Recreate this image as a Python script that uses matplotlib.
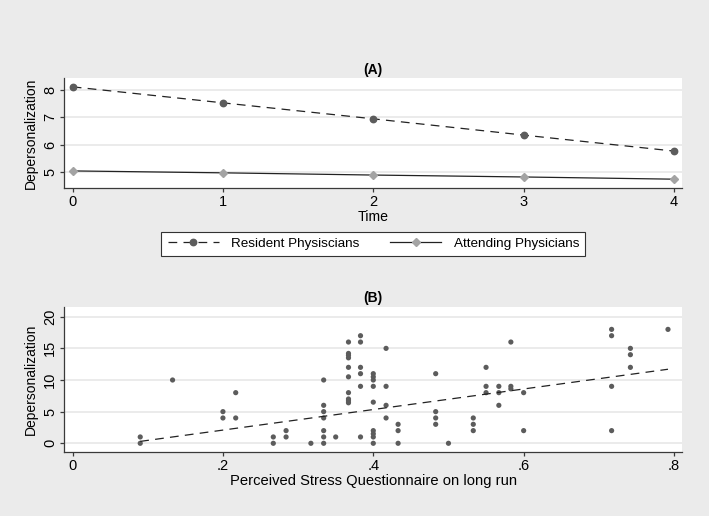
import numpy as np
import matplotlib
matplotlib.use("Agg")
import matplotlib.pyplot as plt

plt.rcParams['font.family'] = ['Liberation Sans', 'DejaVu Sans']

# Panel A: mean depersonalization over time
time = [0, 1, 2, 3, 4]
resident = [8.1, 7.52, 6.94, 6.35, 5.77]
attending = [5.05, 4.98, 4.90, 4.83, 4.75]

# Panel B: scatter of stress vs depersonalization (grouped by stress value)
stress_levels = [0.09, 0.133, 0.2, 0.217, 0.267, 0.284, 0.317, 0.334, 0.35,
                 0.367, 0.383, 0.4, 0.417, 0.433, 0.483, 0.5, 0.533, 0.55,
                 0.567, 0.583, 0.6, 0.717, 0.742, 0.792]
depers_groups = [
    [0, 1],
    [10],
    [5, 4],
    [8, 4],
    [1, 0],
    [2, 1],
    [0],
    [10, 6, 5, 4, 2, 1, 0],
    [1],
    [16, 14.2, 13.9, 13.5, 12, 10.5, 8, 7, 6.7, 6.4],
    [17, 16, 12, 11, 9, 1],
    [11, 10.5, 10, 9, 6.5, 2, 1.5, 1, 0],
    [15, 9, 6, 4],
    [3, 2, 0],
    [11, 5, 4, 3],
    [0],
    [4, 3, 2],
    [12, 9, 8],
    [9, 8, 6],
    [16, 9, 8.6],
    [8, 2],
    [18, 17, 9, 2],
    [15, 14, 12],
    [18],
]
# fitted line
fit_x = [0.09, 0.792]
fit_y = [0.3, 11.7]

stress = np.concatenate([[s] * len(g) for s, g in zip(stress_levels, depers_groups)])
depers = np.concatenate(depers_groups)

bg = '#ebebeb'
grid_c = '#e8e8e8'
dark = '#5c5c5c'
light = '#a3a3a3'
axc = '#3a3a3a'

fig = plt.figure(figsize=(7.09, 5.16), dpi=100)
fig.patch.set_facecolor(bg)

def style(ax):
    ax.set_facecolor('white')
    for s in ['top', 'right']:
        ax.spines[s].set_visible(False)
    for s in ['left', 'bottom']:
        ax.spines[s].set_color(axc)
        ax.spines[s].set_linewidth(0.9)
    ax.grid(axis='y', color=grid_c, linewidth=1.2)
    ax.set_axisbelow(True)
    ax.tick_params(labelsize=10.5, direction='out', length=3, width=0.9,
                   color=axc, pad=2)
    for lab in ax.get_yticklabels():
        lab.set_rotation(90)
        lab.set_va('center')

# Panel A
ax1 = fig.add_axes([0.0907, 0.6362, 0.8716, 0.212])
ax1.plot(time, resident, linestyle=(0, (7, 5)), color='#222222', lw=0.9,
         marker='o', ms=4.6, mfc=dark, mec=dark, label='Resident Physiscians')
ax1.plot(time, attending, linestyle='-', color='#222222', lw=0.9,
         marker='D', ms=4.4, mfc=light, mec=light, label='Attending Physicians')
ax1.set_xlim(-0.056, 4.055)
ax1.set_ylim(4.44, 8.41)
ax1.set_xticks(time)
ax1.set_yticks([5, 6, 7, 8])
ax1.set_xlabel('Time', fontsize=10.2, labelpad=1)
ax1.set_ylabel('Depersonalization', fontsize=10, labelpad=4)
ax1.set_title('(A)', fontsize=10, fontweight='bold', pad=3)
style(ax1)

leg = fig.legend(loc='center', bbox_to_anchor=(0.5265, 0.5275), ncol=2,
                 fontsize=9.7, frameon=True, fancybox=False, framealpha=1,
                 edgecolor='#333333', handlelength=3.8, handletextpad=0.9,
                 columnspacing=2.3, borderpad=0.45)
leg.get_frame().set_linewidth(0.8)

# Panel B
ax2 = fig.add_axes([0.0907, 0.1246, 0.8716, 0.280])
ax2.scatter(stress, depers, s=14, color=dark, edgecolors='none', zorder=3)
ax2.plot(fit_x, fit_y, linestyle=(0, (7, 5)), color='#222222', lw=0.9, zorder=4)
ax2.set_xlim(-0.011, 0.811)
ax2.set_ylim(-1.33, 21.5)
ax2.set_xticks([0, 0.2, 0.4, 0.6, 0.8])
ax2.set_xticklabels(['0', '.2', '.4', '.6', '.8'])
ax2.set_yticks([0, 5, 10, 15, 20])
ax2.set_xlabel('Perceived Stress Questionnaire on long run', fontsize=10.6, labelpad=1)
ax2.set_ylabel('Depersonalization', fontsize=10, labelpad=4)
ax2.set_title('(B)', fontsize=10, fontweight='bold', pad=4)
style(ax2)

fig.savefig('out.png', dpi=100, facecolor=bg)
